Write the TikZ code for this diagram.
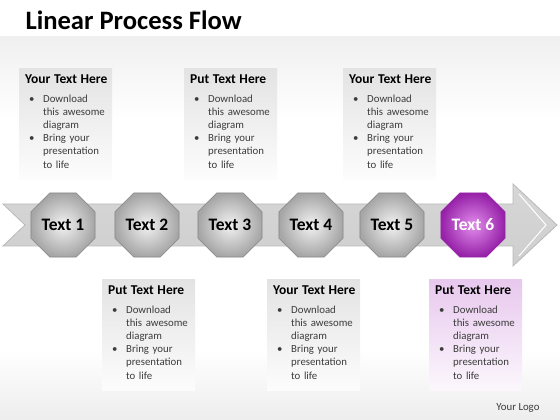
\documentclass[tikz,border=0pt]{standalone}
\usepackage{fontspec}
\setmainfont{Carlito}
\usetikzlibrary{shapes.geometric,positioning}

\definecolor{plum}{RGB}{176,52,196}
\definecolor{plumlight}{RGB}{226,140,236}
\definecolor{plumdark}{RGB}{150,34,168}
\definecolor{pinkbox}{RGB}{232,200,238}
\definecolor{listgray}{RGB}{60,60,60}

\newcommand{\boxtext}[1]{\mbox{\bfseries\color{black}\fontsize{13.5}{15}\selectfont #1}\\[5pt]
  \begin{tabular}[t]{@{\hspace{4pt}}p{14pt}@{}l@{}}
    \textbullet & Download\\ & this awesome\\ & diagram\\
    \textbullet & Bring your\\ & presentation\\ & to life
  \end{tabular}}

\begin{document}
\begin{tikzpicture}[x=1pt, y=1pt,
    oct style/.style={regular polygon, regular polygon sides=8, minimum size=69.3pt,
      inner sep=0pt, shading=radial, inner color=gray!10, outer color=gray!70, draw=gray!95, line width=0.6pt,
      font=\bfseries\fontsize{17.5}{20}\selectfont},
    hot oct style/.style={oct style, inner color=plumlight, outer color=plumdark, draw=plumdark, text=white},
    box style/.style={shade, top color=gray!22, bottom color=gray!2, minimum width=93pt,
      minimum height=111pt, text width=81pt, inner sep=6pt, align=left, anchor=north west,
      text=listgray, font=\fontsize{10.8}{13.2}\selectfont},
    hot box style/.style={box style, top color=pinkbox, bottom color=pinkbox!15},]
    \useasboundingbox (0,0) rectangle (560,420);
    %\draw (0,0) rectangle (560,420);

    \pgfmathsetmacro{\ymid}{195}

    % background bands
    \shade[top color=gray!12, bottom color=white] (0,383) rectangle (560,300);
    \shade[top color=white, bottom color=gray!14] (0,70) rectangle (560,0);

    \node[anchor=base west, font=\bfseries\fontsize{26.6}{30}\selectfont] (title) at (22,390) {Linear Process Flow};

    % the big arrow
    \coordinate (tail top) at (3,216);
    \coordinate (tail notch) at (25,\ymid);
    \coordinate (tail bottom) at (3,174);
    \coordinate (head tip) at (557,\ymid);
    \draw[draw=gray!55, line width=0.8pt, shading=axis, top color=gray!32, middle color=gray!4, bottom color=gray!38]
      (tail top) -- (513,216) -- (513,236) -- (head tip) -- (513,154) -- (513,174)
      -- (tail bottom) -- (tail notch) -- cycle;
    \draw[white, line width=1pt] (519,226) -- (546,\ymid) -- (519,164);

    % steps
    \node[oct style] (s1) at (63,\ymid) {Text 1};
    \node[oct style] (s2) at (147,\ymid) {Text 2};
    \node[oct style] (s3) at (230,\ymid) {Text 3};
    \node[oct style] (s4) at (311,\ymid) {Text 4};
    \node[oct style] (s5) at (392,\ymid) {Text 5};
    \node[hot oct style] (s6) at (473,\ymid) {Text 6};

    % text boxes
    \node[box style] (box1) at (19,352) {\boxtext{Your Text Here}};
    \node[box style] (box3) at (184,352) {\boxtext{Put Text Here}};
    \node[box style] (box5) at (343,352) {\boxtext{Your Text Here}};
    \node[box style] (box2) at (102,141) {\boxtext{Put Text Here}};
    \node[box style] (box4) at (267,141) {\boxtext{Your Text Here}};
    \node[hot box style] (box6) at (429,141) {\boxtext{Put Text Here}};

    \node[anchor=base east, font=\fontsize{10.8}{12}\selectfont, text=listgray] (logo) at (543,9) {Your Logo};

\end{tikzpicture}
\end{document}
